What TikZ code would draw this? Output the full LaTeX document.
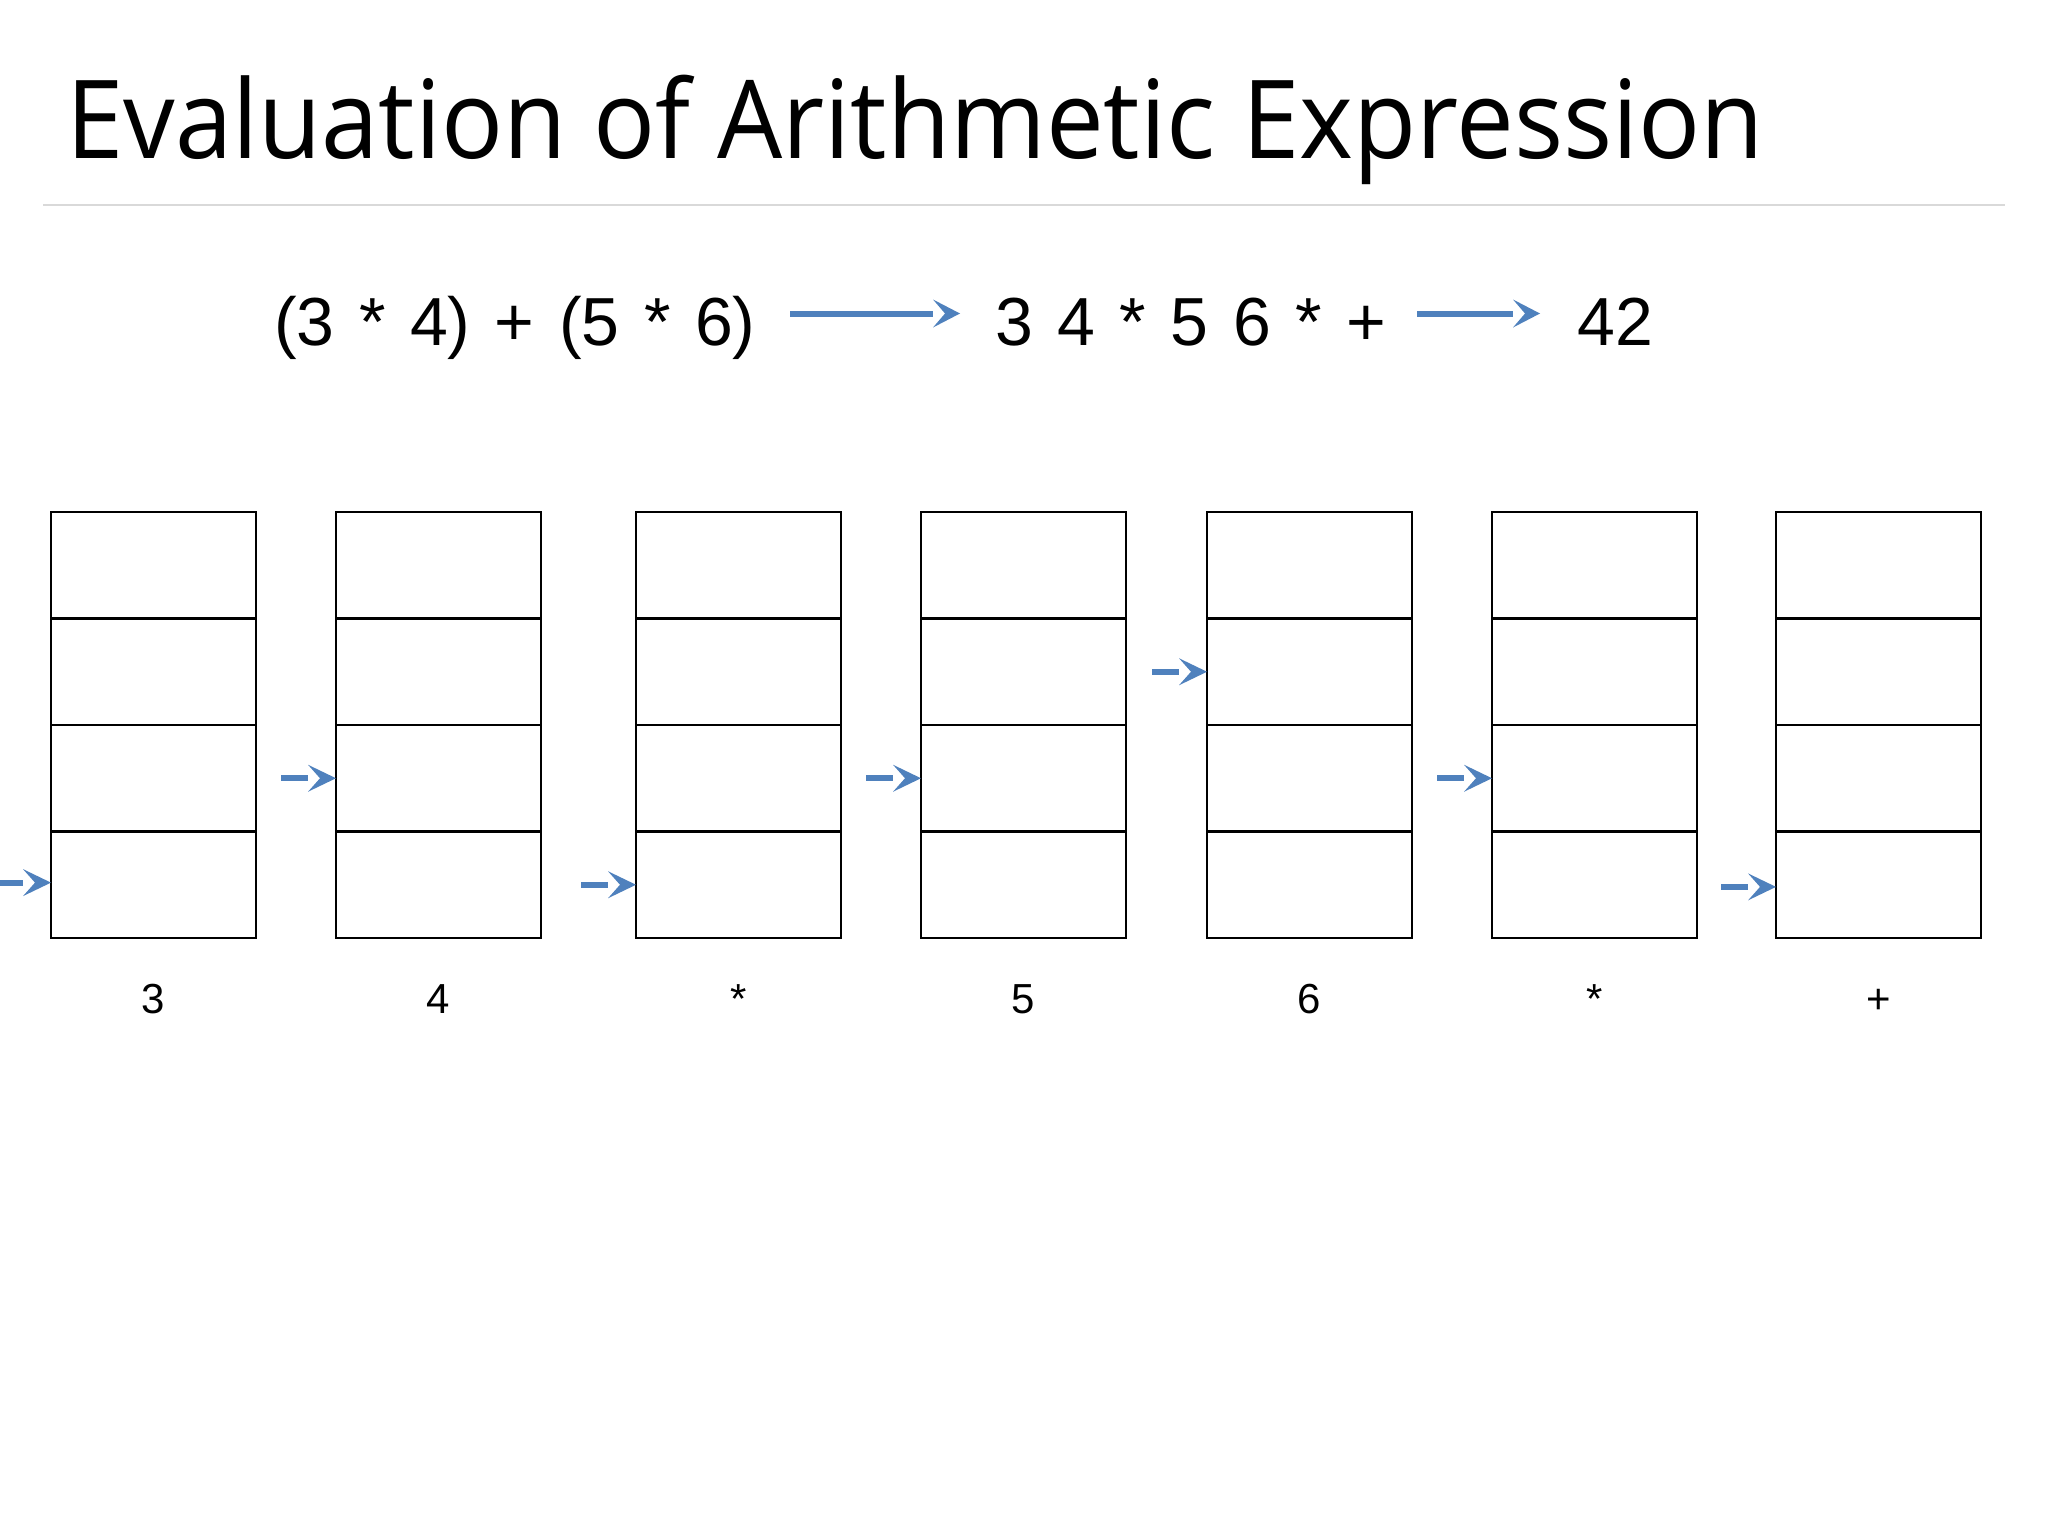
\documentclass[tikz,border=0pt]{standalone}
\usepackage{fontspec}
\setmainfont{Liberation Sans}
\newfontfamily\titlefont{Open Sans}
\usetikzlibrary{calc}
\definecolor{arrowblue}{HTML}{4F81BD}
\definecolor{rulegrey}{HTML}{D9D9D9}
\newcommand\myexprfont{\fontsize{68}{80}\selectfont\spaceskip 24.5pt\relax}
\tikzset{
  stackbox/.style={draw=black, line width=2.5pt, rectangle, minimum width=205pt, minimum height=426pt, inner sep=0pt, outer sep=0pt, anchor=north west},
  exprtext/.style={anchor=base west, inner sep=0pt, font=\myexprfont},
  labeltext/.style={anchor=base, inner sep=0pt, font=\fontsize{42}{50}\selectfont},
  smallbar/.style={line width=6pt, draw=arrowblue},
  bigbar/.style={line width=6pt, draw=arrowblue},
}
\begin{document}
\begin{tikzpicture}[x=1pt,y=-1pt]
\useasboundingbox (0,0) rectangle (2048,1536);
\fill[white] (0,0) rectangle (2048,1536);
% title
\node[anchor=base west, inner sep=0pt, font=\titlefont\fontsize{109}{120}\selectfont] (title) at (66,159) {\scalebox{0.945}[1]{Evaluation of Arithmetic Expression}};
\draw[rulegrey, line width=2.5pt] (43,205) -- (2005,205);
% expression row
\node[exprtext] (e1) at (274,345) {(3 * 4) + (5 * 6)};
\node[exprtext] (e2) at (995,345) {3 4 * 5 6 * +};
\node[exprtext] (e3) at (1577,345) {42};
\coordinate (a1s) at (790,313.5);
\coordinate (a1t) at (960,313.5);
\coordinate (a2s) at (1417,313.5);
\coordinate (a2t) at (1540,313.5);
\foreach \s/\t in {a1s/a1t, a2s/a2t}{
  \draw[bigbar] (\s) -- ($(\t)+(-27,0)$);
  \fill[arrowblue] (\t) -- ++(-27,-14) -- ++(12,14) -- ++(-12,14) -- cycle;
}
% stacks
\foreach \i/\x/\lab in {1/51/3, 2/336/4, 3/636/*, 4/921/5, 5/1207/6, 6/1492/*, 7/1776/+}{
  \node[stackbox] (s\i) at (\x,512) {};
  \foreach \f in {0.25,0.5,0.75}{
    \draw[line width=2.5pt] ($(s\i.north west)!\f!(s\i.south west)$) -- ($(s\i.north east)!\f!(s\i.south east)$);
  }
  \node[labeltext] (l\i) at ($(s\i.south)+(0,75)$) {\lab};
}
% stack pointers
\foreach \i/\f in {1/0.13, 2/0.375, 3/0.125, 4/0.375, 5/0.625, 6/0.375, 7/0.12}{
  \coordinate (t\i) at ($(s\i.south west)!\f!(s\i.north west)$);
  \coordinate (p\i) at ($(t\i)+(-55,0)$);
  \draw[smallbar] (p\i) -- ($(t\i)+(-28,0)$);
  \fill[arrowblue] (t\i) -- ++(-28,-13.5) -- ++(12,13.5) -- ++(-12,13.5) -- cycle;
}
\end{tikzpicture}
\end{document}
